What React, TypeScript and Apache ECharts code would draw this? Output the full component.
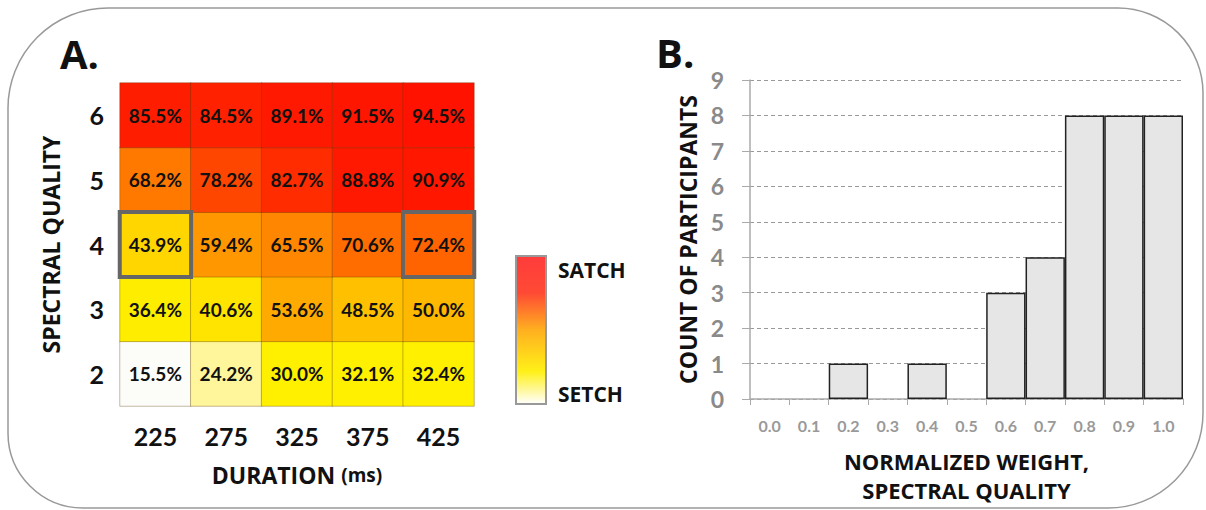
import React, { useEffect, useRef } from "react";
import * as echarts from "echarts";

const durations = ["225", "275", "325", "375", "425"];
const qualities = ["2", "3", "4", "5", "6"];
// rows from quality 2 (bottom) to 6 (top), columns durations 225..425
const pctQ2 = [15.5, 24.2, 30.0, 32.1, 32.4];
const pctQ3 = [36.4, 40.6, 53.6, 48.5, 50.0];
const pctQ4 = [43.9, 59.4, 65.5, 70.6, 72.4];
const pctQ5 = [68.2, 78.2, 82.7, 88.8, 90.9];
const pctQ6 = [85.5, 84.5, 89.1, 91.5, 94.5];
const highlighted = [
  ["225", "4"],
  ["425", "4"],
];

const weightBins = ["0.0", "0.1", "0.2", "0.3", "0.4", "0.5", "0.6", "0.7", "0.8", "0.9", "1.0"];
const participantCounts = [0, 0, 1, 0, 1, 0, 3, 4, 8, 8, 8];

const NUM = "Lato, 'Open Sans', sans-serif";
const CAPS = "'Open Sans', Lato, sans-serif";

export default function App() {
  const ref = useRef<HTMLDivElement>(null);
  useEffect(() => {
    if (!ref.current) return;
    const chart = echarts.init(ref.current, null, { renderer: "svg" });
    const rows = [pctQ2, pctQ3, pctQ4, pctQ5, pctQ6];
    const heatData: any[] = [];
    rows.forEach((row, yi) =>
      row.forEach((v, xi) => heatData.push([xi, yi, v]))
    );
    const hlData = highlighted.map(([d, q]) => [durations.indexOf(d), qualities.indexOf(q), 1]);
    const barData = participantCounts.map((v) => (v === 0 ? "-" : v));

    chart.setOption({
      animation: false,
      textStyle: { fontFamily: NUM },
      grid: [
        { left: 120, top: 83, width: 354, height: 323 },
        { left: 750, top: 80, width: 433, height: 319 },
      ],
      xAxis: [
        {
          type: "category",
          gridIndex: 0,
          data: durations,
          axisLine: { show: false },
          axisTick: { show: false },
          axisLabel: { color: "#111", fontWeight: "bold", fontSize: 25, margin: 17, fontFamily: NUM },
          name: "DURATION {s|(ms)}",
          nameLocation: "middle",
          nameGap: 57,
          nameTextStyle: {
            color: "#111",
            fontWeight: "bold",
            fontSize: 23,
            fontFamily: CAPS,
            rich: { s: { fontSize: 19, fontWeight: "bold", color: "#111", fontFamily: CAPS } },
          },
        },
        {
          type: "category",
          gridIndex: 1,
          data: weightBins,
          axisLine: { lineStyle: { color: "#aaa", width: 1.5 } },
          axisTick: { show: true, alignWithLabel: false, length: 6, lineStyle: { color: "#aaa" } },
          axisLabel: { color: "#999", fontSize: 16, fontWeight: "bold", margin: 18, fontFamily: NUM },
          name: "NORMALIZED WEIGHT,\nSPECTRAL QUALITY",
          nameLocation: "middle",
          nameGap: 47,
          nameTextStyle: {
            color: "#111",
            fontWeight: "bold",
            fontSize: 22,
            lineHeight: 29,
            verticalAlign: "top",
            fontFamily: CAPS,
          },
        },
      ],
      yAxis: [
        {
          type: "category",
          gridIndex: 0,
          data: qualities,
          axisLine: { show: false },
          axisTick: { show: false },
          axisLabel: { color: "#111", fontWeight: "bold", fontSize: 25, margin: 16, fontFamily: NUM },
          name: "SPECTRAL QUALITY",
          nameLocation: "middle",
          nameGap: 58,
          nameRotate: 90,
          nameTextStyle: { color: "#111", fontWeight: "bold", fontSize: 23, fontFamily: CAPS },
        },
        {
          type: "value",
          gridIndex: 1,
          min: 0,
          max: 9,
          interval: 1,
          axisLine: { show: true, lineStyle: { color: "#aaa", width: 1.5 } },
          axisTick: { show: true, length: 8, lineStyle: { color: "#aaa" } },
          axisLabel: { color: "#8a8a8a", fontWeight: "bold", fontSize: 23, margin: 26, fontFamily: NUM },
          splitLine: { show: true, lineStyle: { color: "#999", type: [4, 3], width: 1 } },
          name: "COUNT OF PARTICIPANTS",
          nameLocation: "middle",
          nameGap: 51,
          nameRotate: 90,
          nameTextStyle: { color: "#111", fontWeight: "bold", fontSize: 23, fontFamily: CAPS },
        },
      ],
      visualMap: [
        {
          show: false,
          type: "continuous",
          seriesIndex: 0,
          dimension: 2,
          min: 15,
          max: 95,
          inRange: {
            color: [
              "#fcfcfc",
              "#fffadc",
              "#fff590",
              "#fff000",
              "#fff000",
              "#ffe600",
              "#ffd200",
              "#ffb800",
              "#ffa400",
              "#ff9600",
              "#ff8800",
              "#ff7000",
              "#ff5800",
              "#ff3c00",
              "#ff1e00",
              "#ff1800",
              "#ff1200",
            ],
          },
        },
        {
          show: false,
          type: "continuous",
          seriesIndex: 1,
          dimension: 2,
          min: 0,
          max: 1,
          inRange: { color: ["rgba(0,0,0,0)", "rgba(0,0,0,0)"] },
        },
      ],
      series: [
        {
          type: "heatmap",
          xAxisIndex: 0,
          yAxisIndex: 0,
          data: heatData,
          itemStyle: { borderColor: "rgba(90,60,0,0.35)", borderWidth: 1 },
          label: {
            show: true,
            color: "#111",
            fontWeight: "bold",
            fontSize: 19,
            fontFamily: NUM,
            formatter: (p: any) => p.value[2].toFixed(1) + "%",
          },
          emphasis: { disabled: true },
          z: 2,
        },
        {
          type: "heatmap",
          xAxisIndex: 0,
          yAxisIndex: 0,
          data: hlData,
          itemStyle: { borderColor: "#666", borderWidth: 4 },
          label: { show: false },
          emphasis: { disabled: true },
          z: 3,
        },
        {
          type: "bar",
          xAxisIndex: 1,
          yAxisIndex: 1,
          data: barData,
          barWidth: "100%",
          itemStyle: { color: "#e6e6e6", borderColor: "#222", borderWidth: 1.5 },
        },
      ],
      graphic: [
        {
          type: "rect",
          z: -1,
          shape: { x: 8, y: 8, width: 1195, height: 500, r: [100, 85, 95, 75] },
          style: { fill: "none", stroke: "#999", lineWidth: 1.5 },
        },
        {
          type: "text",
          x: 60,
          y: 33,
          style: { text: "A.", font: `bold 40px ${CAPS}`, fill: "#111" },
        },
        {
          type: "text",
          x: 656,
          y: 32,
          style: { text: "B.", font: `bold 40px ${CAPS}`, fill: "#111" },
        },
        {
          type: "rect",
          shape: { x: 516, y: 256, width: 30, height: 148 },
          style: {
            stroke: "#999",
            lineWidth: 2,
            fill: {
              type: "linear",
              x: 0,
              y: 0,
              x2: 0,
              y2: 1,
              colorStops: [
                { offset: 0, color: "#ff3c3c" },
                { offset: 0.25, color: "#ff4a34" },
                { offset: 0.5, color: "#ffb020" },
                { offset: 0.78, color: "#fff018" },
                { offset: 1, color: "#ffffff" },
              ],
            },
          },
        },
        {
          type: "text",
          x: 558,
          y: 270,
          style: { text: "SATCH", font: `bold 21px ${CAPS}`, fill: "#111", verticalAlign: "middle" },
        },
        {
          type: "text",
          x: 558,
          y: 394,
          style: { text: "SETCH", font: `bold 21px ${CAPS}`, fill: "#111", verticalAlign: "middle" },
        },
      ],
    });
    return () => chart.dispose();
  }, []);
  return (
    <div
      ref={ref}
      style={{ position: "absolute", left: 0, top: 0, width: 1206, height: 510 }}
    />
  );
}
